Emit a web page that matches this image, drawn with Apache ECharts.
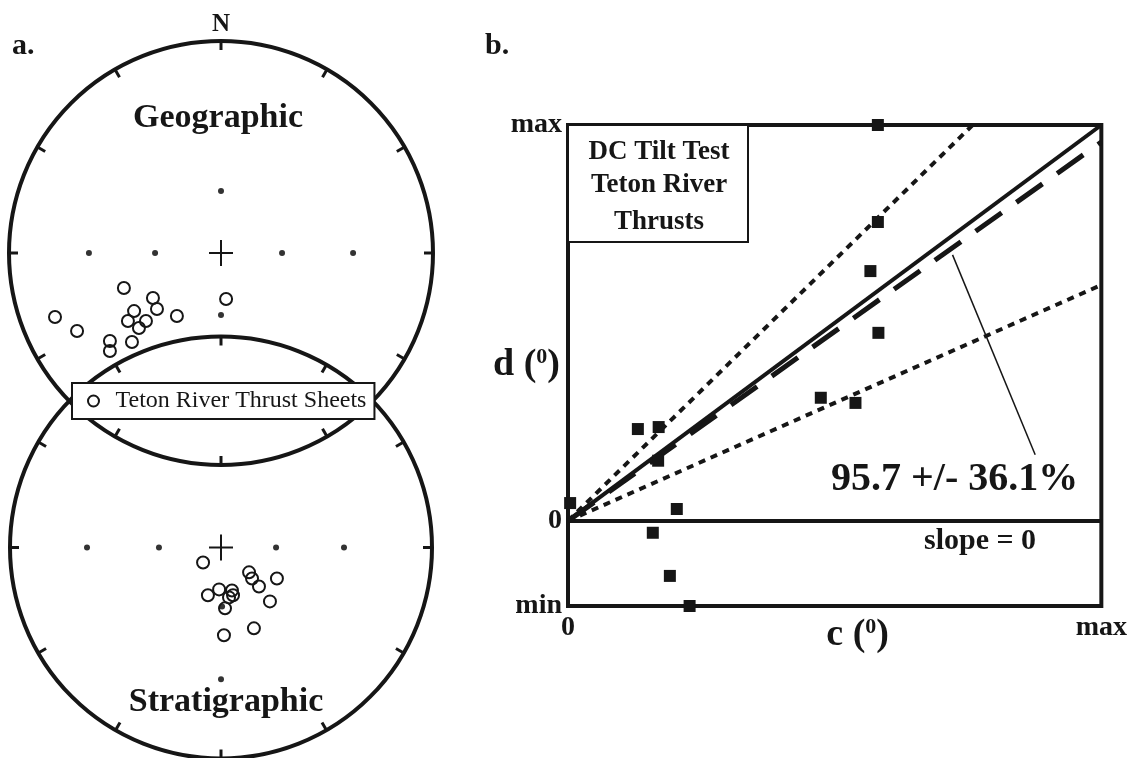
<!DOCTYPE html>
<html><head><meta charset="utf-8">
<script src="https://cdn.jsdelivr.net/npm/echarts@6/dist/echarts.min.js"></script>
<style>html,body{margin:0;padding:0;background:#fff}#c{width:1130px;height:758px}</style>
</head><body><div id="c"></div>
<script>
// ---------- DATA ----------
const SERIES_NAME = 'Teton River Thrust Sheets';
// site-mean directions, projected net coordinates (unit circle, north up)
const geographicDirs = [
  [-0.458,-0.165],[-0.321,-0.212],[-0.302,-0.264],[-0.410,-0.274],[-0.439,-0.321],
  [-0.354,-0.321],[-0.387,-0.354],[-0.208,-0.297],[-0.783,-0.302],[-0.679,-0.368],
  [-0.524,-0.415],[-0.524,-0.462],[-0.420,-0.420],[0.024,-0.217]
];
const stratigraphicDirs = [
  [-0.085,-0.071],[0.133,-0.118],[0.147,-0.147],[0.180,-0.185],[0.265,-0.147],
  [0.232,-0.256],[-0.062,-0.227],[-0.009,-0.199],[0.052,-0.204],[0.057,-0.227],
  [0.038,-0.237],[0.019,-0.289],[0.156,-0.384],[0.014,-0.417]
];
// reference (grid) marks on the nets
const geographicRefMarks = [[0,0.292],[0,-0.292],[-0.623,0],[-0.311,0],[0.288,0],[0.623,0]];
const stratigraphicRefMarks = [[-0.635,0],[-0.294,0],[0.261,0],[0.583,0],[0,-0.626],[0.005,-0.28]];
const netTickAngles = [0,30,60,90,120,150,180,210,240,270,300,330];

// DC tilt test: c (x) vs d (y), arbitrary 0..max units
const tiltC = [0.4,13.1,17.0,16.9,20.4,15.9,19.1,22.8,47.4,53.9,58.2,56.7,58.1,58.1];
const tiltD = [4.5,23.2,23.7,15.2,3.0,-3.0,-13.9,-21.5,31.1,29.8,47.5,63.1,75.5,100];
const fitPercent = 95.7;
const fitError = 36.1;
const leaderLine = [[72.1,67.2],[87.6,16.7]];
const xTickValues = [0,100];
const xTickLabels = ['0','max'];
const yTickValues = [-21.5,0,100];
const yTickLabels = ['min','0','max'];

// ---------- CHART ----------
const INK = '#161616';
const SERIF = '"Liberation Serif","Times New Roman",Times,serif';
const chart = echarts.init(document.getElementById('c'), null, {renderer:'canvas'});

function netRender(params, api) {
  const c = api.coord([0,0]);
  const r = api.size([1,0])[0];
  const ch = [{type:'circle', shape:{cx:c[0],cy:c[1],r:r}, style:{fill:'none',stroke:INK,lineWidth:4}}];
  netTickAngles.forEach(a => {
    const t = a*Math.PI/180, s = Math.sin(t), co = Math.cos(t);
    ch.push({type:'line', shape:{x1:c[0]+s*r, y1:c[1]-co*r, x2:c[0]+s*(r-9), y2:c[1]-co*(r-9)}, style:{stroke:INK,lineWidth:3}});
  });
  ch.push({type:'line', shape:{x1:c[0]-12,y1:c[1],x2:c[0]+12,y2:c[1]}, style:{stroke:INK,lineWidth:2}});
  ch.push({type:'line', shape:{x1:c[0],y1:c[1]-13,x2:c[0],y2:c[1]+13}, style:{stroke:INK,lineWidth:2}});
  return {type:'group', children:ch};
}

const hiddenAxis = (gi) => ({gridIndex:gi, type:'value', min:-1, max:1, show:false});
const lineEnd = (slope) => slope >= 1 ? [100/slope, 100] : [100, 100*slope];

const openCircle = {color:'rgba(255,255,255,0)', borderColor:INK, borderWidth:2, opacity:1};

const option = {
  animation:false,
  backgroundColor:'#fff',
  grid:[
    {left:9, top:41, width:424, height:424},
    {left:10, top:337, width:422, height:422},
    {left:568, top:125, width:534, height:481, show:true, borderColor:INK, borderWidth:4, backgroundColor:'transparent'}
  ],
  xAxis:[hiddenAxis(0), hiddenAxis(1), {
    gridIndex:2, type:'value', min:0, max:100,
    axisLine:{show:false, onZero:false}, axisTick:{show:false}, splitLine:{show:false},
    axisLabel:{customValues:xTickValues, formatter:(v)=>xTickLabels[xTickValues.indexOf(v)], margin:8,
      fontFamily:SERIF, fontWeight:'bold', fontSize:28, color:INK},
    name:'{a|c (}{s|0}{a|)}', nameLocation:'middle', nameGap:10, nameMoveOverlap:false,
    nameTextStyle:{padding:[0,0,0,46], rich:{
      a:{fontFamily:SERIF, fontWeight:'bold', fontSize:38, color:INK},
      s:{fontFamily:SERIF, fontWeight:'bold', fontSize:22, color:INK, verticalAlign:'top'}}}
  }],
  yAxis:[hiddenAxis(0), hiddenAxis(1), {
    gridIndex:2, type:'value', min:-21.5, max:100,
    axisLine:{show:false, onZero:false}, axisTick:{show:false}, splitLine:{show:false},
    axisLabel:{customValues:yTickValues, formatter:(v)=>yTickLabels[yTickValues.indexOf(v)], margin:6,
      fontFamily:SERIF, fontWeight:'bold', fontSize:28, color:INK},
    name:'{a|d (}{s|0}{a|)}', nameLocation:'middle', nameGap:8, nameRotate:0, nameMoveOverlap:false,
    nameTextStyle:{rich:{
      a:{fontFamily:SERIF, fontWeight:'bold', fontSize:38, color:INK},
      s:{fontFamily:SERIF, fontWeight:'bold', fontSize:22, color:INK, verticalAlign:'top'}}}
  }],
  legend:{
    data:[SERIES_NAME], left:72, top:383, selectedMode:false,
    backgroundColor:'#fff', borderColor:INK, borderWidth:2, borderRadius:0,
    padding:[6,8,6,15], itemWidth:12, itemHeight:11,
    textStyle:{fontFamily:SERIF, fontSize:24, color:INK, padding:[0,0,0,11]}
  },
  series:[
    {type:'custom', xAxisIndex:0, yAxisIndex:0, data:[[0,0]], renderItem:netRender, silent:true, z:1},
    {type:'custom', xAxisIndex:1, yAxisIndex:1, data:[[0,0]], renderItem:netRender, silent:true, z:1},
    {type:'scatter', xAxisIndex:0, yAxisIndex:0, data:geographicRefMarks, symbolSize:6, itemStyle:{color:'#333', opacity:1}, silent:true},
    {type:'scatter', xAxisIndex:1, yAxisIndex:1, data:stratigraphicRefMarks, symbolSize:6, itemStyle:{color:'#333', opacity:1}, silent:true},
    {name:SERIES_NAME, type:'scatter', xAxisIndex:0, yAxisIndex:0, data:geographicDirs, symbol:'circle', symbolSize:12, itemStyle:openCircle, z:3},
    {name:SERIES_NAME, type:'scatter', xAxisIndex:1, yAxisIndex:1, data:stratigraphicDirs, symbol:'circle', symbolSize:12, itemStyle:openCircle, z:3},
    // tilt-test lines
    {type:'line', xAxisIndex:2, yAxisIndex:2, data:[[0,0],[100,0]], symbol:'none', lineStyle:{color:INK,width:4}, silent:true},
    {type:'line', xAxisIndex:2, yAxisIndex:2, data:[[0,0],[100,100]], symbol:'none', lineStyle:{color:INK,width:4}, silent:true},
    {type:'line', xAxisIndex:2, yAxisIndex:2, data:[[0,0],lineEnd(fitPercent/100)], symbol:'none', lineStyle:{color:INK,width:5,type:[32,18]}, silent:true},
    {type:'line', xAxisIndex:2, yAxisIndex:2, data:[[0,0],lineEnd((fitPercent+fitError)/100)], symbol:'none', lineStyle:{color:INK,width:4,type:[7,6]}, silent:true},
    {type:'line', xAxisIndex:2, yAxisIndex:2, data:[[0,0],lineEnd((fitPercent-fitError)/100)], symbol:'none', lineStyle:{color:INK,width:4,type:[7,6]}, silent:true},
    {type:'line', xAxisIndex:2, yAxisIndex:2, data:leaderLine, symbol:'none', lineStyle:{color:INK,width:1.5}, silent:true},
    {type:'scatter', xAxisIndex:2, yAxisIndex:2, data:tiltC.map((c,i)=>[c,tiltD[i]]), symbol:'rect', symbolSize:12, itemStyle:{color:INK, opacity:1}, clip:false, z:5}
  ],
  graphic:[
    {type:'text', style:{text:'a.', x:12, y:46, font:'bold 30px '+SERIF, fill:INK, textAlign:'left', textVerticalAlign:'middle'}},
    {type:'text', style:{text:'b.', x:485, y:46, font:'bold 30px '+SERIF, fill:INK, textAlign:'left', textVerticalAlign:'middle'}},
    {type:'text', style:{text:'N', x:221, y:25, font:'bold 25px '+SERIF, fill:INK, textAlign:'center', textVerticalAlign:'middle'}},
    {type:'text', style:{text:'Geographic', x:218, y:118, font:'bold 34px '+SERIF, fill:INK, textAlign:'center', textVerticalAlign:'middle'}},
    {type:'text', style:{text:'Stratigraphic', x:226, y:702, font:'bold 34px '+SERIF, fill:INK, textAlign:'center', textVerticalAlign:'middle'}},
    {type:'rect', shape:{x:568, y:125, width:180, height:117}, style:{fill:'#fff', stroke:INK, lineWidth:2}, z:10},
    {type:'text', z:11, style:{text:'DC Tilt Test', x:659, y:152, font:'bold 27px '+SERIF, fill:INK, textAlign:'center', textVerticalAlign:'middle'}},
    {type:'text', z:11, style:{text:'Teton River', x:659, y:185, font:'bold 27px '+SERIF, fill:INK, textAlign:'center', textVerticalAlign:'middle'}},
    {type:'text', z:11, style:{text:'Thrusts', x:659, y:222, font:'bold 27px '+SERIF, fill:INK, textAlign:'center', textVerticalAlign:'middle'}},
    {type:'text', style:{text:'95.7 +/- 36.1%', x:831, y:480, font:'bold 40px '+SERIF, fill:INK, textAlign:'left', textVerticalAlign:'middle'}},
    {type:'text', style:{text:'slope = 0', x:924, y:541, font:'bold 30px '+SERIF, fill:INK, textAlign:'left', textVerticalAlign:'middle'}}
  ]
};
chart.setOption(option);
</script></body></html>
